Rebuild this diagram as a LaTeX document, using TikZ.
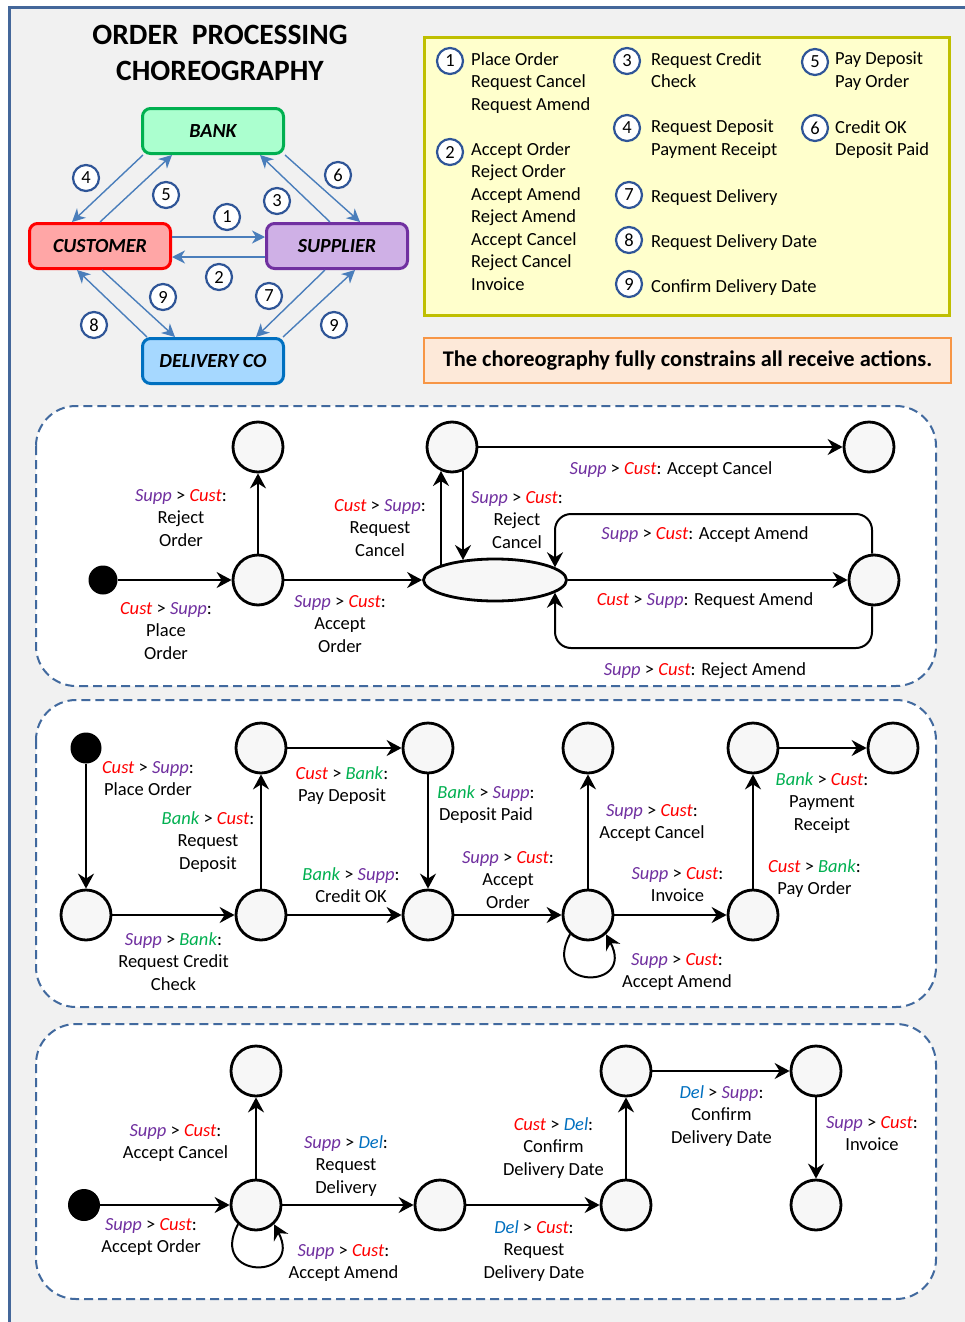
\documentclass[tikz,border=0pt]{standalone}
\usepackage{fontspec}
\setmainfont{Carlito}
\usetikzlibrary{arrows.meta,shapes.geometric,calc}

% role colours
\definecolor{suppc}{HTML}{7030A0}
\definecolor{custc}{HTML}{FF0000}
\definecolor{bankc}{HTML}{00B050}
\definecolor{delc}{HTML}{0070C0}
% box fills
\definecolor{bankfill}{HTML}{ABFFCF}
\definecolor{custfill}{HTML}{FFA6A6}
\definecolor{suppfill}{HTML}{CFB0E6}
\definecolor{delfill}{HTML}{A6D8FF}
% page and decorations
\definecolor{pagebg}{HTML}{F1F1F1}
\definecolor{framec}{HTML}{44679A}
\definecolor{flowc}{HTML}{4A7EBB}
\definecolor{numc}{HTML}{2F5597}
\definecolor{panelc}{HTML}{41699E}
\definecolor{statefill}{HTML}{F7F7F7}
\definecolor{legendfill}{HTML}{FFFFCC}
\definecolor{legendc}{HTML}{BFBF00}
\definecolor{bannerfill}{HTML}{FDE9D9}
\definecolor{bannerc}{HTML}{F79646}

\newcommand{\pSupp}{\textcolor{suppc}{\textit{Supp}}}
\newcommand{\pCust}{\textcolor{custc}{\textit{Cust}}}
\newcommand{\pBank}{\textcolor{bankc}{\textit{Bank}}}
\newcommand{\pDel}{\textcolor{delc}{\textit{Del}}}
\newcommand{\msg}[2]{#1 > #2:}

\tikzset{
  txt/.style={font=\fontsize{18.5}{22.5}\selectfont, inner sep=0pt},
  lab/.style={txt, align=center, anchor=north, yshift=-3pt, execute at begin node=\strut},
  leg/.style={txt, align=left, anchor=north west, yshift=-3pt, execute at begin node=\strut},
  state/.style={circle, draw=black, line width=2.8pt, fill=statefill,
    minimum size=50pt, inner sep=0pt},
  startdot/.style={circle, fill=black, inner sep=0pt},
  arr/.style={line width=2pt, -{Stealth[length=15pt,width=16pt,inset=5pt]}},
  panel/.style={draw=panelc, line width=2pt, dash pattern=on 9pt off 5pt,
    rounded corners=40pt, fill=white},
  role/.style={draw, line width=3pt, rounded corners=8pt, minimum width=141pt,
    minimum height=45pt, inner sep=0pt,
    font=\fontsize{20}{24}\selectfont\bfseries\itshape},
  flow/.style={draw=flowc, line width=1.4pt,
    -{Stealth[length=13pt,width=13pt,inset=4pt]}},
  num/.style={circle, draw=numc, line width=2.2pt, fill=white,
    minimum size=26pt, inner sep=0pt, font=\fontsize{18.5}{22}\selectfont},
}

\begin{document}
\begin{tikzpicture}[x=1pt, y=-1pt]
\useasboundingbox (0,0) rectangle (964,1322);
\fill[white] (0,0) rectangle (964,1322);
\fill[pagebg] (9.5,7.5) rectangle (980,1340);
\draw[framec, line width=3pt] (9.5,1340) -- (9.5,7.5) -- (980,7.5);

% ---------- title ----------
\node[font=\fontsize{29.5}{36}\selectfont\bfseries, align=center, inner sep=0pt]
  (title) at (220,53) {ORDER\ \ PROCESSING\\CHOREOGRAPHY};

% ---------- participants ----------
\node[role, draw=bankc, fill=bankfill] (bank) at (213,131) {BANK};
\node[role, draw=custc, fill=custfill] (cust) at (100,246) {CUSTOMER};
\node[role, draw=suppc, fill=suppfill] (supp) at (337,246) {SUPPLIER};
\node[role, draw=delc, fill=delfill] (dlv) at (213,361) {DELIVERY CO};

\draw[flow] ([shift={(2,0)}]bank.south west) -- ([shift={(-28,0)}]cust.north);
\draw[flow] (cust.north) -- ([shift={(-41,0)}]bank.south);
\draw[flow] ([shift={(-7,0)}]supp.north) -- ([shift={(47,0)}]bank.south);
\draw[flow] (bank.south east) -- ([shift={(23,0)}]supp.north);
\draw[flow] ([shift={(0,-9)}]cust.east) -- ([shift={(0,-9)}]supp.west);
\draw[flow] ([shift={(0,11)}]supp.west) -- ([shift={(0,11)}]cust.east);
\draw[flow] ([shift={(6,0)}]dlv.north west) -- ([shift={(-23,0)}]cust.south);
\draw[flow] ([shift={(2,0)}]cust.south) -- ([shift={(-38,0)}]dlv.north);
\draw[flow] ([shift={(-12,0)}]supp.south) -- ([shift={(43,0)}]dlv.north);
\draw[flow] ([shift={(-2,0)}]dlv.north east) -- ([shift={(18,0)}]supp.south);

\node[num] (f4) at (86,178) {4};
\node[num] (f5) at (166,195) {5};
\node[num] (f1) at (227,217) {1};
\node[num] (f3) at (277,201) {3};
\node[num] (f6) at (338,175) {6};
\node[num] (f2) at (219,277) {2};
\node[num] (f9a) at (163,297) {9};
\node[num] (f7) at (269,296) {7};
\node[num] (f8) at (94,325) {8};
\node[num] (f9b) at (334,325) {9};

% ---------- legend ----------
\node[draw=legendc, fill=legendfill, line width=3pt, minimum width=525pt,
  minimum height=278pt, inner sep=0pt] (legend) at (687,176.5) {};
\node[num] (g1) at (450,61) {1};
\node[num] (g2) at (450,152) {2};
\node[num] (g3) at (627,61) {3};
\node[num] (g4) at (627,128) {4};
\node[num] (g7) at (629,195) {7};
\node[num] (g8) at (629,240) {8};
\node[num] (g9) at (629,284) {9};
\node[num] (g5) at (815,62) {5};
\node[num] (g6) at (815,128) {6};
\node[leg] (t1) at (471,49) {Place Order\\Request Cancel\\Request Amend};
\node[leg] (t2) at (471,139) {Accept Order\\Reject Order\\Accept Amend\\Reject Amend\\Accept Cancel\\Reject Cancel\\Invoice};
\node[leg] (t3) at (651,49) {Request Credit\\Check};
\node[leg] (t4) at (651,117) {Request Deposit\\Payment Receipt};
\node[leg] (t7) at (651,184) {Request Delivery};
\node[leg] (t8) at (651,229) {Request Delivery Date};
\node[leg] (t9) at (651,274) {Confirm Delivery Date};
\node[leg] (t5) at (835,49) {Pay Deposit\\Pay Order};
\node[leg] (t6) at (835,117) {Credit OK\\Deposit Paid};

\node[draw=bannerc, fill=bannerfill, line width=2pt, minimum width=527pt,
  minimum height=45pt, inner sep=0pt, font=\fontsize{22.4}{26}\selectfont\bfseries]
  (banner) at (687.5,360.5) {The choreography fully constrains all receive actions.};

% ---------- panel 1: ordering, cancelling and amending ----------
\draw[panel] (36,406) rectangle (936,686);
\node[startdot, minimum size=29pt] (p1s) at (103,580) {};
\node[state] (p1a) at (258,580) {};
\node[state] (p1r) at (258,447) {};
\node[state] (p1c) at (452,447) {};
\node[ellipse, draw=black, line width=2.8pt, fill=statefill, minimum width=143pt,
  minimum height=42pt, inner sep=0pt] (p1e) at (495,580) {};
\node[state] (p1x) at (869,447) {};
\node[state] (p1m) at (874,580) {};

\draw[arr] (p1s) -- (p1a);
\draw[arr] (p1a) -- (p1r);
\draw[arr] (p1a) -- (p1e);
\draw[arr] ([shift={(-54,-15)}]p1e.center) -- ([shift={(-11,24)}]p1c.center);
\draw[arr] ([shift={(11,24)}]p1c.center) -- ([shift={(-32,-20)}]p1e.center);
\draw[arr] (p1c) -- (p1x);
\draw[arr] (p1e) -- (p1m);
\draw[arr, rounded corners=16pt] ([shift={(-2,0)}]p1m.north)
  |- ([shift={(60,-66)}]p1e.center) -- ([shift={(60,-12.7)}]p1e.center);
\draw[arr, rounded corners=16pt] ([shift={(-2,0)}]p1m.south)
  |- ([shift={(60,68)}]p1e.center) -- ([shift={(60,12.7)}]p1e.center);

\node[lab] (l11) at (181,486) {\msg{\pSupp}{\pCust}\\Reject\\Order};
\node[lab] (l12) at (166,599) {\msg{\pCust}{\pSupp}\\Place\\Order};
\node[lab] (l13) at (340,592) {\msg{\pSupp}{\pCust}\\Accept\\Order};
\node[lab] (l14) at (380,496) {\msg{\pCust}{\pSupp}\\Request\\Cancel};
\node[lab] (l15) at (517,488) {\msg{\pSupp}{\pCust}\\Reject\\Cancel};
\node[lab] (l16) at (671,456) {\msg{\pSupp}{\pCust} Accept Cancel};
\node[lab] (l17) at (705,521) {\msg{\pSupp}{\pCust} Accept Amend};
\node[lab] (l18) at (705,587) {\msg{\pCust}{\pSupp} Request Amend};
\node[lab] (l19) at (705,657) {\msg{\pSupp}{\pCust} Reject Amend};

% ---------- panel 2: payment ----------
\draw[panel] (36,700) rectangle (936,1007);
\node[startdot, minimum size=31pt] (p2s) at (86,748) {};
\node[state] (p2a) at (86,915) {};
\node[state] (p2b) at (261,915) {};
\node[state] (p2c) at (261,748) {};
\node[state] (p2d) at (428,748) {};
\node[state] (p2e) at (428,915) {};
\node[state] (p2f) at (588,915) {};
\node[state] (p2g) at (588,748) {};
\node[state] (p2h) at (753,748) {};
\node[state] (p2i) at (753,915) {};
\node[state] (p2j) at (893,748) {};

\draw[arr] (p2s) -- (p2a);
\draw[arr] (p2a) -- (p2b);
\draw[arr] (p2b) -- (p2c);
\draw[arr] (p2c) -- (p2d);
\draw[arr] (p2b) -- (p2e);
\draw[arr] (p2d) -- (p2e);
\draw[arr] (p2e) -- (p2f);
\draw[arr] (p2f) -- (p2g);
\draw[arr] (p2f) -- (p2i);
\draw[arr] (p2f.227) .. controls +(-30,56) and +(30,56) .. (p2f.313);
\draw[arr] (p2i) -- (p2h);
\draw[arr] (p2h) -- (p2j);

\node[lab] (l21) at (148,758) {\msg{\pCust}{\pSupp}\\Place Order};
\node[lab] (l22) at (208,808) {\msg{\pBank}{\pCust}\\Request\\Deposit};
\node[lab] (l23) at (342,763) {\msg{\pCust}{\pBank}\\Pay Deposit};
\node[lab] (l24) at (351,864) {\msg{\pBank}{\pSupp}\\Credit OK};
\node[lab] (l25) at (173.5,929) {\msg{\pSupp}{\pBank}\\Request Credit\\Check};
\node[lab] (l26) at (486,782) {\msg{\pBank}{\pSupp}\\Deposit Paid};
\node[lab] (l27) at (508,848) {\msg{\pSupp}{\pCust}\\Accept\\Order};
\node[lab] (l28) at (652,801) {\msg{\pSupp}{\pCust}\\Accept Cancel};
\node[lab] (l29) at (677.5,864) {\msg{\pSupp}{\pCust}\\Invoice};
\node[lab] (l2a) at (677,950) {\msg{\pSupp}{\pCust}\\Accept Amend};
\node[lab] (l2b) at (814.5,856) {\msg{\pCust}{\pBank}\\Pay Order};
\node[lab] (l2c) at (822,769) {\msg{\pBank}{\pCust}\\Payment\\Receipt};

% ---------- panel 3: delivery ----------
\draw[panel] (36,1024) rectangle (936,1299);
\node[startdot, minimum size=32pt] (p3s) at (84,1205) {};
\node[state] (p3a) at (256,1205) {};
\node[state] (p3b) at (256,1071) {};
\node[state] (p3c) at (440,1205) {};
\node[state] (p3d) at (626,1205) {};
\node[state] (p3e) at (626,1071) {};
\node[state] (p3f) at (816,1071) {};
\node[state] (p3g) at (816,1205) {};

\draw[arr] (p3s) -- (p3a);
\draw[arr] (p3a) -- (p3b);
\draw[arr] (p3a) -- (p3c);
\draw[arr] (p3a.227) .. controls +(-30,56) and +(30,56) .. (p3a.313);
\draw[arr] (p3c) -- (p3d);
\draw[arr] (p3d) -- (p3e);
\draw[arr] (p3e) -- (p3f);
\draw[arr] (p3f) -- (p3g);

\node[lab] (l31) at (175.5,1121) {\msg{\pSupp}{\pCust}\\Accept Cancel};
\node[lab] (l32) at (151,1215) {\msg{\pSupp}{\pCust}\\Accept Order};
\node[lab] (l33) at (346,1132) {\msg{\pSupp}{\pDel}\\Request\\Delivery};
\node[lab] (l34) at (343.5,1241) {\msg{\pSupp}{\pCust}\\Accept Amend};
\node[lab] (l35) at (534,1217) {\msg{\pDel}{\pCust}\\Request\\Delivery Date};
\node[lab] (l36) at (553.5,1114) {\msg{\pCust}{\pDel}\\Confirm\\Delivery Date};
\node[lab] (l37) at (721.5,1082) {\msg{\pDel}{\pSupp}\\Confirm\\Delivery Date};
\node[lab] (l38) at (872,1113) {\msg{\pSupp}{\pCust}\\Invoice};
\end{tikzpicture}
\end{document}
